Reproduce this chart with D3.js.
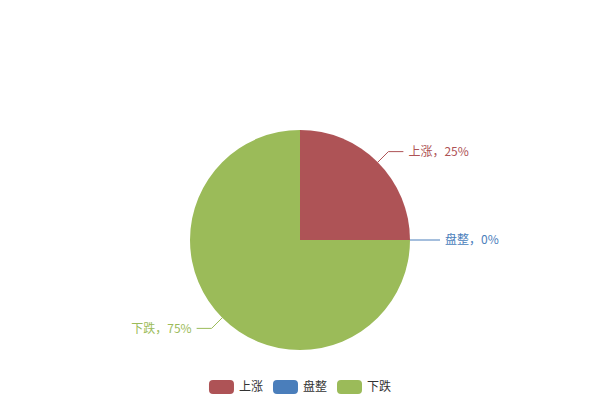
<!DOCTYPE html>
<html>
<head>
<meta charset="utf-8">
<script src="https://cdn.jsdelivr.net/npm/d3@7"></script>
<style>
html,body{margin:0;padding:0;background:#fff;}
svg{display:block;font-family:"Noto Sans CJK SC","Microsoft YaHei",sans-serif;}
</style>
</head>
<body>
<svg id="chart" width="600" height="400"></svg>
<script>
const categories = ["上涨", "盘整", "下跌"];
const values = [25, 0, 75];
const percentLabels = ["25%", "0%", "75%"];
const colors = ["#ae5356", "#4a7ebb", "#9bbb59"];

const svg = d3.select("#chart");
const cx = 300, cy = 240, R = 110;
const len1 = 15, len2 = 15;

const data = categories.map((c, i) => ({name: c, value: values[i], label: percentLabels[i], color: colors[i]}));
const pie = d3.pie().sort(null).value(d => d.value).startAngle(0).endAngle(2 * Math.PI);
const arcs = pie(data);
const arc = d3.arc().innerRadius(0).outerRadius(R);

const g = svg.append("g").attr("transform", `translate(${cx},${cy})`);
g.selectAll("path.slice").data(arcs).enter().append("path")
  .attr("class", "slice")
  .attr("d", arc)
  .attr("fill", d => d.data.color);

arcs.forEach(d => {
  const mid = (d.startAngle + d.endAngle) / 2;
  const sx = Math.sin(mid), sy = -Math.cos(mid);
  const p0 = [R * sx, R * sy];
  const p1 = [(R + len1) * sx, (R + len1) * sy];
  const dir = sx >= 0 ? 1 : -1;
  const p2 = [p1[0] + dir * len2, p1[1]];
  g.append("polyline")
    .attr("points", [p0, p1, p2].map(p => p.join(",")).join(" "))
    .attr("fill", "none")
    .attr("stroke", d.data.color)
    .attr("stroke-width", 1);
  g.append("text")
    .attr("x", p2[0] + dir * 5)
    .attr("y", p2[1])
    .attr("dy", "0.35em")
    .attr("text-anchor", dir > 0 ? "start" : "end")
    .attr("font-size", 12)
    .attr("fill", d.data.color)
    .text(d.data.name + "，" + d.data.label);
});

// Legend
const itemW = 25, itemH = 14, gap = 10, textGap = 5;
const legend = svg.append("g");
const tmp = svg.append("text").attr("font-size", 12);
const widths = categories.map(c => { tmp.text(c); return tmp.node().getComputedTextLength(); });
tmp.remove();
const itemWidths = widths.map(w => itemW + textGap + w);
const total = d3.sum(itemWidths) + gap * (categories.length - 1);
let x = 300 - total / 2;
const ly = 387;
categories.forEach((c, i) => {
  legend.append("rect")
    .attr("x", x).attr("y", ly - itemH / 2)
    .attr("width", itemW).attr("height", itemH)
    .attr("rx", 4).attr("ry", 4)
    .attr("fill", colors[i]);
  legend.append("text")
    .attr("x", x + itemW + textGap).attr("y", ly)
    .attr("dy", "0.35em")
    .attr("font-size", 12)
    .attr("fill", "#333")
    .text(c);
  x += itemWidths[i] + gap;
});
</script>
</body>
</html>
